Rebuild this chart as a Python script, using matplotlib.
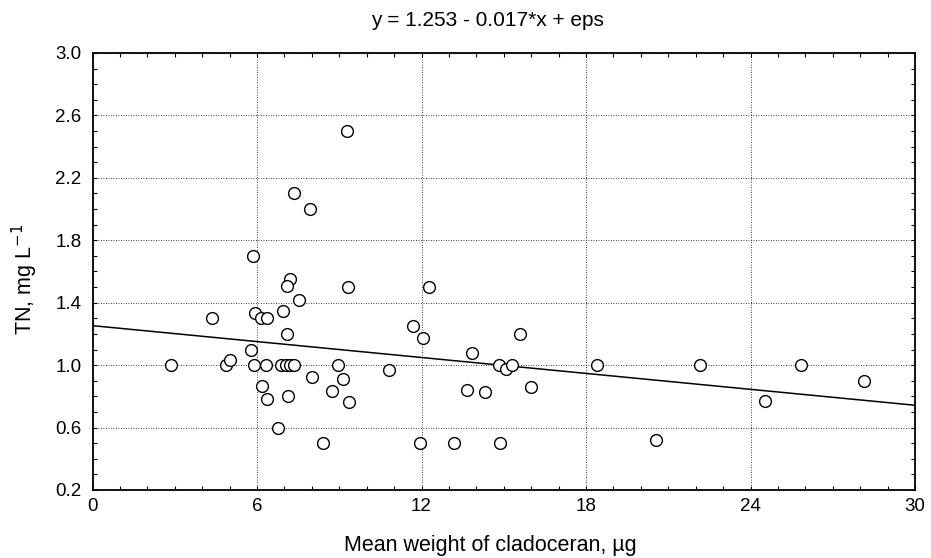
import numpy as np
import matplotlib
matplotlib.use("Agg")
import matplotlib.pyplot as plt
from matplotlib.ticker import MultipleLocator

plt.rcParams['font.family'] = ['Liberation Sans', 'DejaVu Sans']

# --- Data ---
weight = [9.3, 7.35, 7.95, 5.85, 7.2, 7.1, 9.33, 7.52, 6.96, 4.37,
          5.94, 6.16, 6.36, 7.09, 5.79, 2.85, 4.88, 5.03, 5.9, 6.34,
          6.87, 7.07, 7.21, 7.36, 8.94, 6.17, 7.99, 9.13, 6.38, 7.14,
          8.75, 9.34, 6.75, 8.4, 12.28, 11.69, 12.05, 13.83, 15.6, 10.83,
          13.65, 14.32, 14.82, 15.08, 15.3, 16.0, 18.4, 11.96, 13.2, 14.87,
          22.17, 25.83, 28.14, 24.53, 20.57]
tn = [2.5, 2.1, 2.0, 1.7, 1.55, 1.51, 1.5, 1.42, 1.35, 1.3,
      1.335, 1.3, 1.3, 1.2, 1.1, 1.0, 1.0, 1.034, 1.0, 1.0,
      1.0, 1.0, 1.0, 1.0, 1.0, 0.864, 0.923, 0.912, 0.782, 0.804,
      0.834, 0.761, 0.6, 0.5, 1.5, 1.25, 1.177, 1.079, 1.198, 0.972,
      0.84, 0.829, 1.0, 0.974, 1.0, 0.861, 1.0, 0.5, 0.5, 0.5,
      1.0, 1.0, 0.898, 0.77, 0.518]

intercept = 1.253
slope = -0.017

x_ticks = [0, 6, 12, 18, 24, 30]
y_ticks = [0.2, 0.6, 1.0, 1.4, 1.8, 2.2, 2.6, 3.0]

# --- Plot ---
fig = plt.figure(figsize=(9.31, 5.58), dpi=100)
ax = fig.add_axes([92.5 / 931, 1 - 490 / 558, (915 - 92.5) / 931, (490 - 53) / 558])

ax.scatter(weight, tn, s=72, facecolors='white', edgecolors='black', linewidths=1.0, zorder=3)

xl = np.array([0, 30])
ax.plot(xl, intercept + slope * xl, color='black', linewidth=1.1, zorder=2)

ax.set_xlim(0, 30)
ax.set_ylim(0.2, 3.0)
ax.set_xticks(x_ticks)
ax.set_yticks(y_ticks)
ax.set_yticklabels([f"{v:.1f}" for v in y_ticks])
ax.xaxis.set_minor_locator(MultipleLocator(1))
ax.yaxis.set_minor_locator(MultipleLocator(0.1))
ax.tick_params(which='both', direction='in', top=True, right=True, labelsize=13.5)
ax.tick_params(which='major', length=3, width=0.8)
ax.tick_params(which='minor', length=3, width=0.8)
ax.tick_params(axis='x', pad=6)
ax.tick_params(axis='y', pad=8)

ax.grid(True, which='major', linestyle=(0, (1, 2)), color='black', linewidth=0.6)
for s in ax.spines.values():
    s.set_linewidth(1.3)

fig.text(490 / 931, 1 - 545 / 558, "Mean weight of cladoceran, µg", fontsize=15.5,
         ha='center', va='center')
fig.text(25 / 931, 1 - 279 / 558, "TN, mg L$^{-1}$", fontsize=15.5,
         ha='center', va='center', rotation=90)
fig.text(487 / 931, 1 - 20 / 558, "y = 1.253 - 0.017*x + eps", fontsize=15,
         ha='center', va='center')

plt.savefig("out.png", dpi=100)
